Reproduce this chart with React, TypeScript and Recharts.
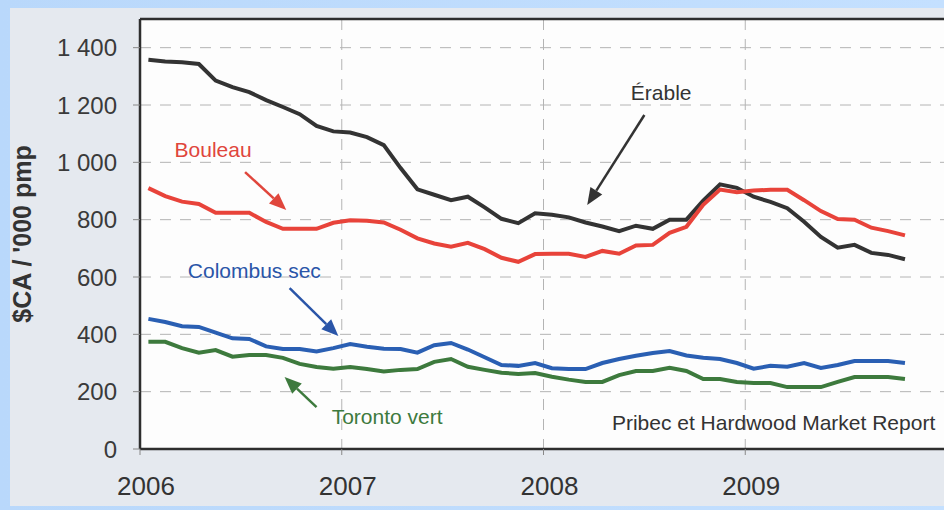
import React from "react";
import {
  LineChart,
  Line,
  XAxis,
  YAxis,
  CartesianGrid,
  ReferenceLine,
  ReferenceDot,
} from "recharts";

// ─── Data (monthly, Jan 2006 – Oct 2009, $CA / '000 pmp) ──────────────────────

const ERABLE = [
  1358, 1352, 1349, 1343, 1285, 1262, 1245, 1217, 1193, 1168, 1127, 1108,
  1104, 1088, 1060, 980, 906, 887, 868, 880, 843, 803, 788, 822,
  817, 808, 790, 776, 760, 779, 768, 800, 800, 866, 923, 911,
  880, 862, 840, 793, 740, 702, 712, 684, 677, 662,
];

const BOULEAU = [
  910, 882, 863, 855, 824, 824, 824, 792, 768, 768, 768, 789,
  798, 796, 790, 765, 735, 717, 706, 719, 697, 667, 653, 680,
  681, 681, 670, 691, 681, 710, 712, 754, 775, 852, 905, 896,
  902, 904, 904, 868, 830, 802, 800, 772, 760, 745,
];

const COLOMBUS = [
  454, 443, 428, 426, 406, 386, 384, 358, 349, 349, 340, 352,
  366, 357, 350, 349, 336, 362, 370, 347, 320, 293, 290, 300,
  282, 279, 279, 300, 314, 325, 335, 342, 326, 318, 314, 300,
  280, 290, 287, 300, 283, 293, 307, 307, 307, 300,
];

const TORONTO = [
  374, 374, 352, 336, 345, 322, 328, 328, 318, 297, 286, 280,
  286, 279, 270, 276, 279, 304, 314, 287, 276, 266, 262, 265,
  252, 242, 234, 234, 258, 272, 272, 283, 272, 244, 244, 234,
  230, 230, 216, 216, 216, 234, 251, 251, 251, 244,
];

const YEAR_TICKS = [0, 12, 24, 36];
const YEAR_LABELS = ["2006", "2007", "2008", "2009"];
const Y_TICKS = [0, 200, 400, 600, 800, 1000, 1200, 1400];

// month index -> mid-month position on the time axis
const rows = ERABLE.map((v, i) => ({
  t: i + 0.5,
  erable: v,
  bouleau: BOULEAU[i],
  colombus: COLOMBUS[i],
  toronto: TORONTO[i],
}));

// ─── Annotations ──────────────────────────────────────────────────────────────

const LABELS = [
  { text: "Érable", t: 31, v: 1245, color: "#333333" },
  { text: "Bouleau", t: 4.35, v: 1043, color: "#e0463c" },
  { text: "Colombus sec", t: 6.8, v: 621, color: "#2a55a8" },
  { text: "Toronto vert", t: 14.7, v: 112, color: "#3d7a3d" },
];

const ARROWS = [
  { from: [30, 1165], to: [26.6, 851], color: "#333333" },
  { from: [6.25, 966], to: [8.7, 834], color: "#e0463c" },
  { from: [8.9, 561], to: [11.8, 394], color: "#2a55a8" },
  { from: [10.5, 146], to: [8.6, 251], color: "#3d7a3d" },
];

const fmtY = (v: number) =>
  v >= 1000 ? `${Math.floor(v / 1000)} ${String(v % 1000).padStart(3, "0")}` : String(v);

const fmtX = (t: number) => YEAR_LABELS[YEAR_TICKS.indexOf(t)] ?? "";

const FONT = "'Liberation Sans', Arial, sans-serif";

function arrowShape(color: string) {
  return (props: any) => {
    const { x1, y1, x2, y2 } = props;
    const dx = x2 - x1;
    const dy = y2 - y1;
    const len = Math.hypot(dx, dy) || 1;
    const ux = dx / len;
    const uy = dy / len;
    const hl = 17;
    const hw = 7;
    const bx = x2 - ux * hl;
    const by = y2 - uy * hl;
    return (
      <g>
        <line x1={x1} y1={y1} x2={bx} y2={by} stroke={color} strokeWidth={2.5} />
        <polygon
          points={`${x2},${y2} ${bx - uy * hw},${by + ux * hw} ${bx + uy * hw},${by - ux * hw}`}
          fill={color}
        />
      </g>
    );
  };
}

// ─── Component ────────────────────────────────────────────────────────────────

export default function App() {
  return (
    <div
      style={{
        position: "fixed",
        left: 0,
        top: 0,
        width: 944,
        height: 510,
        overflow: "hidden",
        background: "linear-gradient(90deg, #b9d8fb 0%, #c4e0ff 100%)",
      }}
    >
      {/* paper */}
      <div
        style={{
          position: "absolute",
          left: 10,
          top: 8,
          width: 934,
          height: 498,
          background: "#e5e9ef",
        }}
      />
      <div style={{ position: "absolute", left: 0, top: 0 }}>
        <LineChart
          width={960}
          height={510}
          data={rows}
          margin={{ top: 19, right: 13, left: 0, bottom: 0 }}
          style={{ fontFamily: FONT }}
        >
          <CartesianGrid
            fill="#fdfdfd"
            stroke="#b4b4b4"
            strokeDasharray="11 9"
            strokeWidth={1}
          />
          <XAxis
            type="number"
            dataKey="t"
            domain={[0, 48]}
            ticks={YEAR_TICKS}
            tickFormatter={fmtX}
            height={61}
            tickSize={6}
            tickMargin={22}
            axisLine={{ stroke: "#2e2e2e", strokeWidth: 2.5 }}
            tickLine={{ stroke: "#888" }}
            tick={{ fill: "#333", fontSize: 26, dx: 6 }}
            allowDataOverflow
          />
          <YAxis
            domain={[0, 1500]}
            ticks={Y_TICKS}
            tickFormatter={fmtY}
            width={140}
            tickSize={7}
            tickMargin={16}
            axisLine={{ stroke: "#2e2e2e", strokeWidth: 2.5 }}
            tickLine={{ stroke: "#888" }}
            tick={{ fill: "#3a3a3a", fontSize: 24 }}
            label={{
              value: "$CA / '000 pmp",
              angle: -90,
              position: "insideLeft",
              offset: 22,
              style: {
                textAnchor: "middle",
                fontWeight: 700,
                fontSize: 25,
                fill: "#333",
              },
            }}
          />
          {/* top frame of the plot box */}
          <ReferenceLine y={1500} stroke="#2e2e2e" strokeWidth={2.5} />

          <Line
            dataKey="toronto"
            stroke="#3d7a3d"
            strokeWidth={4}
            dot={false}
            isAnimationActive={false}
          />
          <Line
            dataKey="colombus"
            stroke="#2a5fb3"
            strokeWidth={4}
            dot={false}
            isAnimationActive={false}
          />
          <Line
            dataKey="erable"
            stroke="#333333"
            strokeWidth={4}
            dot={false}
            isAnimationActive={false}
          />
          <Line
            dataKey="bouleau"
            stroke="#e8433a"
            strokeWidth={4}
            dot={false}
            isAnimationActive={false}
          />

          {ARROWS.map((a, i) => (
            <ReferenceLine
              key={`arrow-${i}`}
              segment={[
                { x: a.from[0], y: a.from[1] },
                { x: a.to[0], y: a.to[1] },
              ]}
              ifOverflow="visible"
              shape={arrowShape(a.color)}
            />
          ))}

          {LABELS.map((l) => (
            <ReferenceDot
              key={l.text}
              x={l.t}
              y={l.v}
              r={0}
              fill="none"
              stroke="none"
              ifOverflow="visible"
              label={{
                value: l.text,
                position: "center",
                fill: l.color,
                fontSize: 21,
              }}
            />
          ))}

          <ReferenceDot
            x={47.3}
            y={94}
            r={0}
            fill="none"
            stroke="none"
            ifOverflow="visible"
            label={(p: any) => (
              <text
                x={p.viewBox.x}
                y={p.viewBox.y}
                textAnchor="end"
                dominantBaseline="central"
                fill="#333"
                fontSize={21}
              >
                Pribec et Hardwood Market Report
              </text>
            )}
          />
        </LineChart>
      </div>
    </div>
  );
}
